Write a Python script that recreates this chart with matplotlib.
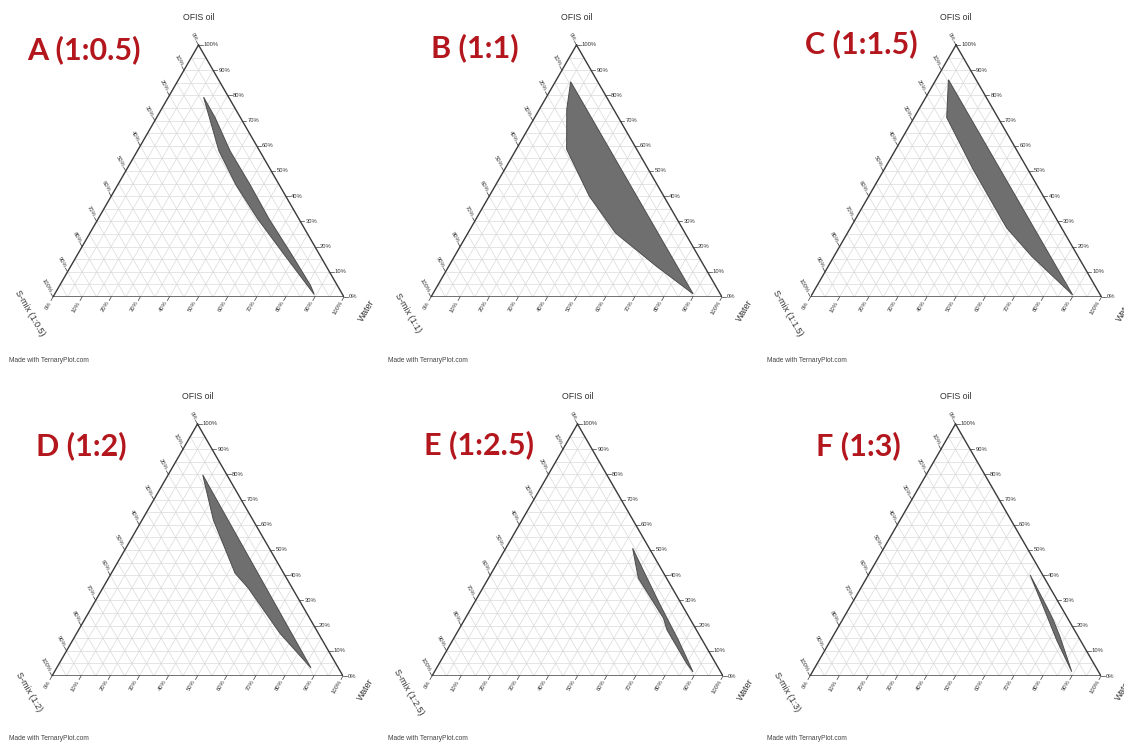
import numpy as np
import matplotlib.pyplot as plt
from matplotlib.patches import Polygon

FIG_W, FIG_H = 1124, 742
H = np.sqrt(3) / 2

panel_titles = ["A (1:0.5)", "B (1:1)", "C (1:1.5)", "D (1:2)", "E (1:2.5)", "F (1:3)"]
smix_titles = ["S-mix (1:0.5)", "S-mix (1:1)", "S-mix (1:1.5)",
               "S-mix (1:2)", "S-mix (1:2.5)", "S-mix (1:3)"]
top_title = "OFIS oil"
right_title = "Water"
ticks = list(range(0, 101, 10))
credit = "Made with TernaryPlot.com"

# nanoemulsion regions, % oil and % water (S-mix is the rest)
a_oil = [79.3, 58.0, 44.5, 31.2, 17.9, 4.7, 1.0, 4.7, 17.9, 31.2, 44.5, 57.8, 71.1]
a_water = [12.1, 28.0, 40.6, 54.6, 69.8, 85.0, 89.3, 86.1, 72.5, 58.5, 45.5, 32.0, 20.2]

b_oil = [85.4, 74.5, 58.6, 40.0, 25.4, 12.1, 1.2]
b_water = [5.3, 9.4, 17.3, 34.4, 50.7, 71.5, 89.5]

c_oil = [86.2, 71.2, 50.6, 32.0, 27.4, 16.1, 0.8]
c_water = [4.3, 11.2, 30.6, 49.1, 53.7, 68.0, 89.7]

d_oil = [79.8, 61.9, 40.8, 34.8, 16.9, 3.2]
d_water = [11.9, 24.5, 42.5, 50.1, 69.9, 87.4]

e_oil = [50.7, 38.8, 22.9, 18.3, 5.0, 1.6, 14.3, 28.2, 44.7]
e_water = [43.6, 51.5, 68.1, 71.6, 85.0, 88.9, 77.5, 64.3, 49.1]

f_oil = [40.1, 27.5, 14.3, 1.7, 15.6, 22.2, 27.5]
f_water = [55.6, 66.4, 77.6, 89.1, 78.1, 72.5, 67.6]

regions = [(a_oil, a_water), (b_oil, b_water), (c_oil, c_water),
           (d_oil, d_water), (e_oil, e_water), (f_oil, f_water)]

# layout: bottom-left corner of each triangle and side length, in pixels
tri_left = [53, 431, 810.5, 52, 432, 810]
tri_bottom = [297, 297, 297, 676, 676, 676]
tri_side = 291
title_pos = [(27, 50), (431, 48), (805, 44), (36, 446), (424, 445), (816, 446)]
credit_pos = [(9, 360), (388, 361), (767, 361), (9, 738), (388, 738), (767, 738)]

RED = "#b3161d"
EDGE = "#3a3a3a"
GRID = "#dadada"
TXT = "#333333"
SMALL = ["Liberation Sans", "DejaVu Sans"]


def to_xy(oil, water):
    o = np.asarray(oil, dtype=float) / 100.0
    w = np.asarray(water, dtype=float) / 100.0
    return w + o / 2, o * H


def draw_ternary(ax, oil, water, smix_title):
    ax.set_xlim(0, 1)
    ax.set_ylim(0, 1)
    ax.axis("off")

    # 5% grid in all three directions
    for k in range(5, 100, 5):
        for (o1, w1), (o2, w2) in [((k, 0), (k, 100 - k)),
                                   ((0, k), (100 - k, k)),
                                   ((100 - k, 0), (0, 100 - k))]:
            x, y = to_xy([o1, o2], [w1, w2])
            ax.plot(x, y, color=GRID, lw=0.5, zorder=1)

    x, y = to_xy([100, 0, 0, 100], [0, 0, 100, 0])
    ax.plot(x, y, color=EDGE, lw=1.0, zorder=3, solid_joinstyle="miter")

    tl = 0.014
    gap = 0.004
    for t in ticks:
        lab = f"{t}%"
        # oil (right edge, horizontal ticks)
        x0, y0 = to_xy(t, 100 - t)
        ax.plot([x0, x0 + tl], [y0, y0], color=EDGE, lw=0.5, clip_on=False)
        ax.text(x0 + tl + gap, y0, lab, fontsize=4.2, family=SMALL, color=TXT,
                ha="left", va="center")
        # water (bottom edge)
        x0, y0 = to_xy(0, t)
        dx, dy = -0.5 * tl, -H * tl
        ax.plot([x0, x0 + dx], [y0, y0 + dy], color=EDGE, lw=0.5, clip_on=False)
        ax.text(x0 + dx - 0.5 * gap, y0 + dy - H * gap, lab, fontsize=4.2,
                family=SMALL, color=TXT, rotation=60, rotation_mode="anchor",
                ha="right", va="center")
        # s-mix (left edge)
        x0, y0 = to_xy(100 - t, 0)
        dx, dy = -0.5 * tl, H * tl
        ax.plot([x0, x0 + dx], [y0, y0 + dy], color=EDGE, lw=0.5, clip_on=False)
        ax.text(x0 + dx - 0.5 * gap, y0 + dy + H * gap, lab, fontsize=4.2,
                family=SMALL, color=TXT, rotation=-60, rotation_mode="anchor",
                ha="right", va="center")

    ax.text(0.5, 0.962, top_title, fontsize=6.3, family=SMALL, color=TXT,
            ha="center", va="center")
    ax.text(1.078, -0.045, right_title, fontsize=6.5, family=SMALL, color=TXT,
            rotation=60, ha="center", va="center")
    ax.text(-0.079, -0.056, smix_title, fontsize=6.5, family=SMALL, color=TXT,
            rotation=-60, ha="center", va="center")

    px, py = to_xy(oil, water)
    ax.add_patch(Polygon(np.column_stack([px, py]), closed=True,
                         facecolor="#6f6f6f", edgecolor="#4d4d4d", lw=0.7,
                         zorder=4))


fig = plt.figure(figsize=(FIG_W / 100, FIG_H / 100), dpi=100)
fig.patch.set_facecolor("white")

for i in range(6):
    ax = fig.add_axes([tri_left[i] / FIG_W, 1 - tri_bottom[i] / FIG_H,
                       tri_side / FIG_W, tri_side / FIG_H])
    oil, water = regions[i]
    draw_ternary(ax, oil, water, smix_titles[i])

    tx, ty = title_pos[i]
    fig.text(tx / FIG_W, 1 - ty / FIG_H, panel_titles[i], fontsize=22,
             family=["Lato", "DejaVu Sans"], fontweight="bold", color=RED,
             ha="left", va="center")
    cx, cy = credit_pos[i]
    fig.text(cx / FIG_W, 1 - cy / FIG_H, credit, fontsize=4.8, family=SMALL,
             color="#444444", ha="left", va="center")

fig.savefig("out.png", dpi=100)
